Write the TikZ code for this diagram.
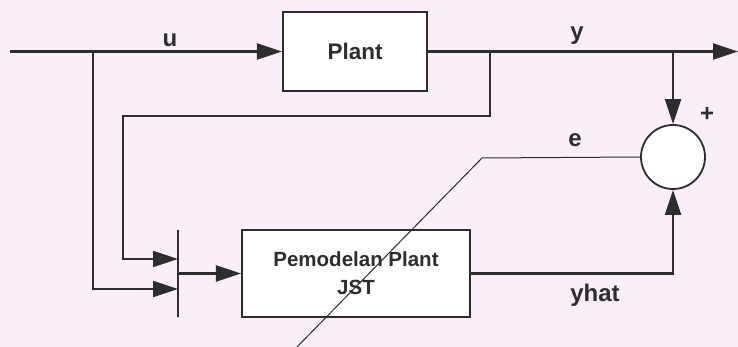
\documentclass[tikz,border=0pt]{standalone}
\usepackage{fontspec}
\setmainfont{Liberation Sans}
\usetikzlibrary{arrows.meta}
\definecolor{bg}{RGB}{250,238,248}
\definecolor{ink}{RGB}{45,45,45}
\begin{document}
\begin{tikzpicture}[x=1pt,y=-1pt,
  line width=2.2pt, draw=ink,
  arr/.style={-{Triangle[length=25pt,width=16pt,fill=ink]}, draw=ink},
  blk/.style={draw=ink, fill=white, line width=2.2pt, inner sep=0pt, text=ink, align=center},
  lbl/.style={font=\fontsize{24}{28}\selectfont\bfseries, text=ink, inner sep=0pt}]
\fill[bg] (0,0) rectangle (738,347);
\useasboundingbox (0,0) rectangle (738,347);
% blocks
\node[blk, minimum width=144pt, minimum height=79pt, font=\fontsize{22.5}{26}\selectfont\bfseries] (plant) at (355,51.5) {Plant};
\node[blk, minimum width=228pt, minimum height=87pt, font=\fontsize{20.5}{25}\selectfont\bfseries] (model) at (356,273.5) {Pemodelan Plant\\[3pt]JST};
\node[draw=ink, fill=white, circle, minimum size=64pt, inner sep=0pt, line width=1.8pt] (sum) at (673,157) {};
\node[draw=ink, line width=1.2pt, minimum width=0pt, minimum height=87pt, inner sep=0pt, shape=rectangle] (bar) at (178,273.5) {};
% coordinates
\coordinate (in) at (10,51.5);
\coordinate (out) at (738,51.5);
\coordinate (ju) at (93,51.5);
\coordinate (jy) at (490,51.5);
\coordinate (jsum) at (673,51.5);
\coordinate (c2) at (123,116);
\coordinate (b1) at (178,259);
\coordinate (b2) at (178,289);
\coordinate (e1) at (482,158);
\coordinate (e2) at (297,347);
% connectors
\draw[arr] (in) -- (plant.west);
\draw[arr] (plant.east) -- (out);
\draw[arr] (jsum) -- (sum.north);
\draw[arr] (jy) |- (c2) |- (b1);
\draw[arr] (ju) |- (b2);
\draw[arr] (bar.center) -- (model.west);
\draw[arr] (model.east) -| (sum.south);
\draw[line width=1pt] (sum.west) -- (e1) -- (e2);
% labels
\node[lbl] (lu) at (170,40) {u};
\node[lbl] (ly) at (577,36) {y};
\node[lbl] (le) at (575,140) {e};
\node[lbl] (lyhat) at (595,295) {yhat};
\node[lbl] (lplus) at (707,114) {+};
\end{tikzpicture}
\end{document}
